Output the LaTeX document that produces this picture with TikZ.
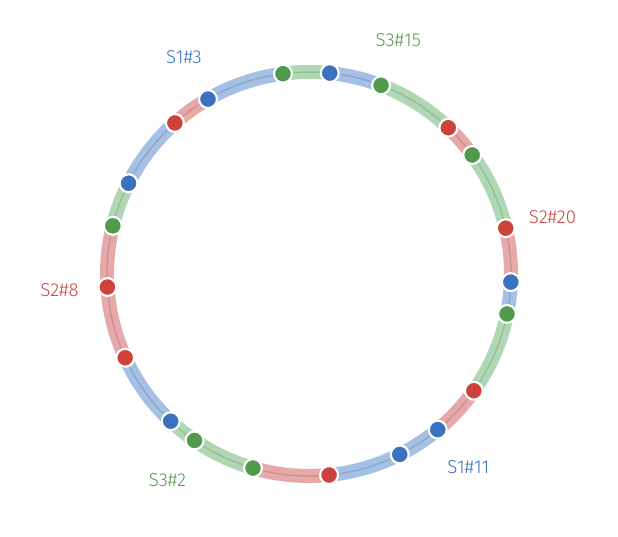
\documentclass[tikz,border=0pt]{standalone}
\usepackage{fontspec}
\setmainfont{Fira Sans Light}
\definecolor{sblue}{RGB}{58,114,192}
\definecolor{sgreen}{RGB}{80,154,78}
\definecolor{sred}{RGB}{206,66,60}
\definecolor{lblue}{RGB}{164,192,228}
\definecolor{lgreen}{RGB}{176,215,180}
\definecolor{lred}{RGB}{230,168,168}
\tikzset{
  seg/.style={line width=10.5pt},
  midline/.style={line width=1.1pt, color=black, opacity=0.12},
  dot/.style={circle, draw=white, line width=1.6pt, inner sep=0pt, minimum size=13.4pt},
  lbl/.style={font=\fontsize{14}{16}\selectfont}
}
\begin{document}
\begin{tikzpicture}[x=0.75pt, y=0.75pt]
    \useasboundingbox (0,0) rectangle (618,536);
    \coordinate (ring) at (309,262);
    % Points on the ring, clockwise
    \foreach \a/\c [count=\i] in {97.4/green, 84.1/blue, 69.1/green, 46.4/red,
        36.1/green, 13.1/red, -2.3/blue, -11.4/green, -35.3/red, -50.4/blue,
        -63.3/blue, -84.3/red, -106.1/green, -124.5/green, -133.2/blue,
        -155.5/red, -176.3/red, -193.8/green, -206.7/blue, -228.4/red, -240/blue}
      \coordinate (p\i) at ([shift={(\a:202)}]ring);
    % Arcs from each point to the next one
    \foreach \a/\b/\c [count=\i] in {97.4/84.1/green, 84.1/69.1/blue, 69.1/46.4/green,
        46.4/36.1/red, 36.1/13.1/green, 13.1/-2.3/red, -2.3/-11.4/blue,
        -11.4/-35.3/green, -35.3/-50.4/red, -50.4/-63.3/blue, -63.3/-84.3/blue,
        -84.3/-106.1/red, -106.1/-124.5/green, -124.5/-133.2/green,
        -133.2/-155.5/blue, -155.5/-176.3/red, -176.3/-193.8/red,
        -193.8/-206.7/green, -206.7/-228.4/blue, -228.4/-240/red, -240/-262.6/blue}
      \draw[seg, color=l\c] (p\i) arc[start angle=\a, end angle=\b, radius=202];
    \draw[midline] (ring) circle[radius=202];
    % Dots
    \foreach \a/\c [count=\i] in {97.4/green, 84.1/blue, 69.1/green, 46.4/red,
        36.1/green, 13.1/red, -2.3/blue, -11.4/green, -35.3/red, -50.4/blue,
        -63.3/blue, -84.3/red, -106.1/green, -124.5/green, -133.2/blue,
        -155.5/red, -176.3/red, -193.8/green, -206.7/blue, -228.4/red, -240/blue}
      \node[dot, fill=s\c] (d\i) at (p\i) {};
    % Labels
    \node[lbl, text=sblue] (s1a) at ([shift={(120:250)}]ring) {S1\#3};
    \node[lbl, text=sgreen] (s3a) at ([shift={(69.1:250)}]ring) {S3\#15};
    \node[lbl, text=sred] (s2a) at ([shift={(13.1:250)}]ring) {S2\#20};
    \node[lbl, text=sred] (s2b) at ([shift={(183.7:250)}]ring) {S2\#8};
    \node[lbl, text=sblue] (s1b) at ([shift={(-50.4:250)}]ring) {S1\#11};
    \node[lbl, text=sgreen] (s3b) at ([shift={(-124.5:250)}]ring) {S3\#2};
\end{tikzpicture}
\end{document}
